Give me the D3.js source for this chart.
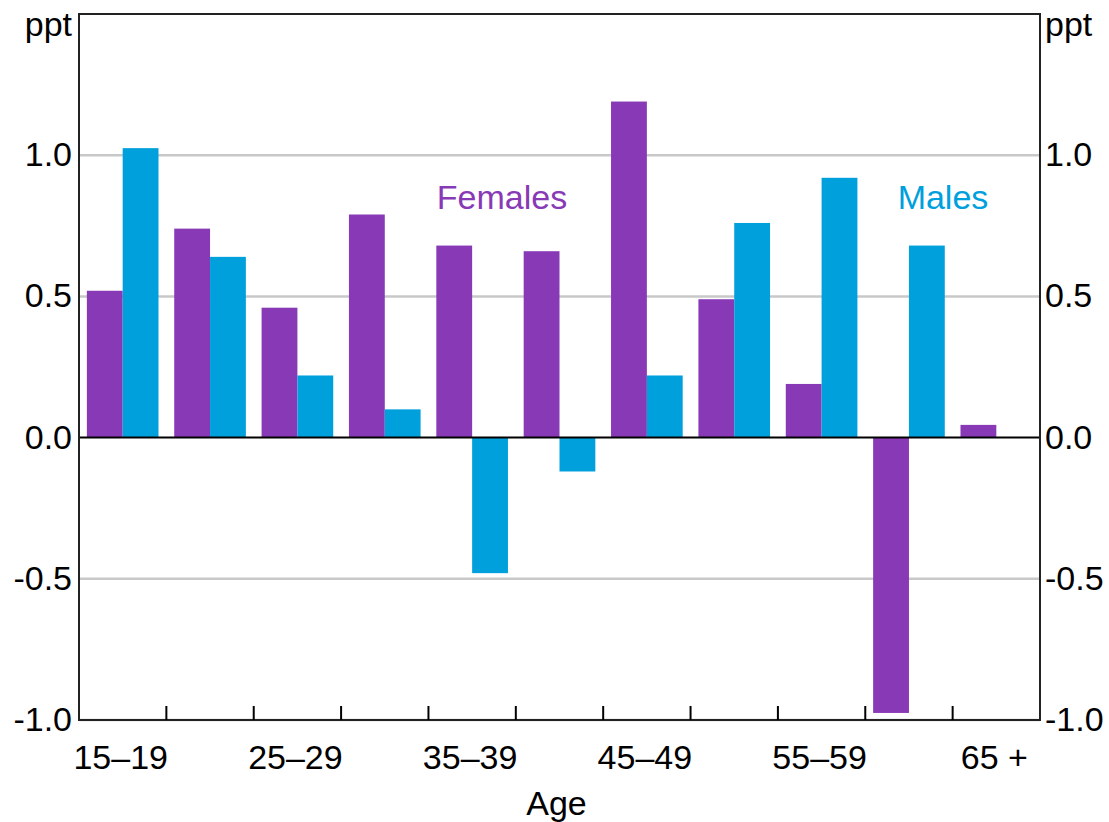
<!DOCTYPE html>
<html>
<head>
    <meta charset="utf-8">
    <script src="https://d3js.org/d3.v7.min.js" charset="utf-8"></script>
    <style>
        body { margin: 0; background: #fff; }
        text { font-family: "Liberation Sans", Arial, sans-serif; fill: #000; font-size: 34px; }
    </style>
</head>
<body>
    <div id="chart_container"></div>
    <script>
        // Data
        const ageGroups = ['15–19', '20–24', '25–29', '30–34', '35–39', '40–44', '45–49', '50–54', '55–59', '60–64', '65 +'];
        const females = [0.52, 0.74, 0.46, 0.79, 0.68, 0.66, 1.19, 0.49, 0.19, -0.975, 0.045];
        const males = [1.025, 0.64, 0.22, 0.10, -0.48, -0.12, 0.22, 0.76, 0.92, 0.68, null];
        const yTicks = [-1.0, -0.5, 0.0, 0.5, 1.0];
        const labelledGroups = ['15–19', '25–29', '35–39', '45–49', '55–59', '65 +'];

        var width = 1109,
            height = 822;
        var margin = { top: 14, right: 69, bottom: 102, left: 79 },
            plotW = width - margin.left - margin.right,
            plotH = height - margin.top - margin.bottom;

        const svg = d3.select('#chart_container')
            .append('svg')
            .attr('width', width)
            .attr('height', height);

        const g = svg.append('g')
            .attr('transform', `translate(${margin.left},${margin.top})`);

        const x = d3.scaleBand()
            .domain(ageGroups)
            .range([0, plotW])
            .paddingInner(0.18)
            .paddingOuter(0.09);

        const xSub = d3.scaleBand()
            .domain(['Females', 'Males'])
            .range([0, x.bandwidth()]);

        const y = d3.scaleLinear()
            .domain([-1, 1.5])
            .range([plotH, 0]);

        const colors = { Females: '#8839b6', Males: '#00a0dd' };

        // gridlines
        g.selectAll('.grid')
            .data(yTicks.filter(d => d !== 0))
            .enter().append('line')
            .attr('x1', 0).attr('x2', plotW)
            .attr('y1', d => y(d)).attr('y2', d => y(d))
            .attr('stroke', '#c8c8c8')
            .attr('stroke-width', 2.5);

        // bars
        const rows = [];
        ageGroups.forEach((a, i) => {
            rows.push({ age: a, key: 'Females', value: females[i] });
            if (males[i] !== null) rows.push({ age: a, key: 'Males', value: males[i] });
        });

        g.selectAll('.bar')
            .data(rows)
            .enter().append('rect')
            .attr('x', d => x(d.age) + xSub(d.key))
            .attr('width', xSub.bandwidth())
            .attr('y', d => y(Math.max(0, d.value)))
            .attr('height', d => Math.abs(y(d.value) - y(0)))
            .attr('fill', d => colors[d.key]);

        // zero line
        g.append('line')
            .attr('x1', 0).attr('x2', plotW)
            .attr('y1', y(0)).attr('y2', y(0))
            .attr('stroke', '#000')
            .attr('stroke-width', 2);

        // frame
        g.append('rect')
            .attr('width', plotW).attr('height', plotH)
            .attr('fill', 'none')
            .attr('stroke', '#222')
            .attr('stroke-width', 2);

        // x ticks at group boundaries, pointing inward
        const gap = (x.step() - x.bandwidth()) / 2;
        g.selectAll('.xtick')
            .data(ageGroups.slice(1))
            .enter().append('line')
            .attr('x1', d => x(d) - gap)
            .attr('x2', d => x(d) - gap)
            .attr('y1', plotH).attr('y2', plotH - 14)
            .attr('stroke', '#000')
            .attr('stroke-width', 2);

        // x labels
        g.selectAll('.xlab')
            .data(labelledGroups)
            .enter().append('text')
            .attr('x', d => x(d) + x.bandwidth() / 2 - 2)
            .attr('y', plotH + 49)
            .attr('text-anchor', 'middle')
            .text(d => d);

        // y labels both sides
        const fmt = d3.format('.1f');
        g.selectAll('.ylabL')
            .data(yTicks)
            .enter().append('text')
            .attr('x', -7)
            .attr('y', d => y(d) + 11)
            .attr('text-anchor', 'end')
            .text(d => fmt(d).replace('−', '-'));

        g.selectAll('.ylabR')
            .data(yTicks)
            .enter().append('text')
            .attr('x', plotW + 5)
            .attr('y', d => y(d) + 11)
            .attr('text-anchor', 'start')
            .text(d => fmt(d).replace('−', '-'));

        // units
        g.append('text').attr('x', -7).attr('y', 22)
            .attr('text-anchor', 'end').text('ppt');
        g.append('text').attr('x', plotW + 5).attr('y', 22)
            .attr('text-anchor', 'start').text('ppt');

        // series labels
        g.append('text')
            .attr('x', 502 - margin.left)
            .attr('y', y(0.81))
            .attr('text-anchor', 'middle')
            .style('fill', colors.Females)
            .text('Females');
        g.append('text')
            .attr('x', 943 - margin.left)
            .attr('y', y(0.81))
            .attr('text-anchor', 'middle')
            .style('fill', colors.Males)
            .text('Males');

        // axis title
        g.append('text')
            .attr('x', plotW / 2 - 3)
            .attr('y', plotH + 95)
            .attr('text-anchor', 'middle')
            .text('Age');
    </script>
</body>
</html>
